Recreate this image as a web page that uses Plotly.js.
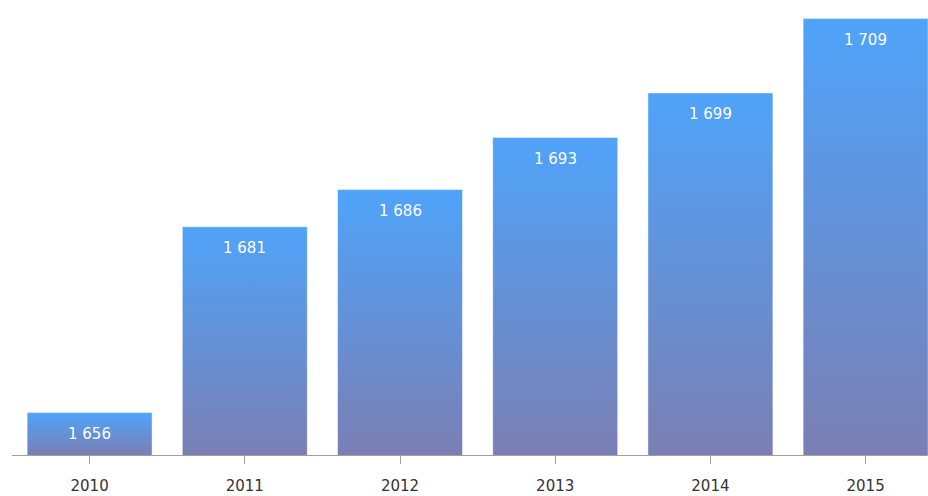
<!DOCTYPE html>
<html>
<head>
<meta charset="utf-8">
<script src="https://cdn.plot.ly/plotly-3.0.1.min.js"></script>
<style>
html,body{margin:0;padding:0;background:#fff;overflow:hidden;}
#chart{width:928px;height:496px;}
</style>
</head>
<body>
<div id="chart"></div>
<script>
const years = ['2010','2011','2012','2013','2014','2015'];
const values = [1656, 1681, 1686, 1693, 1699, 1709];

function fmt(v){ return String(v).replace(/\B(?=(\d{3})+(?!\d))/g, ' '); }

const trace = {
  type: 'bar',
  x: years,
  y: values,
  marker: {color: '#648fd8', line: {color: 'rgba(255,255,255,0.45)', width: 1}},
  hoverinfo: 'none'
};

const annotations = years.map((yr, i) => ({
  x: i, y: values[i], xref: 'x', yref: 'y',
  text: fmt(values[i]), showarrow: false,
  xanchor: 'center', yanchor: 'middle', yshift: -21,
  font: {family: 'DejaVu Sans, Verdana, sans-serif', size: 15, color: '#ffffff'}
}));

const layout = {
  width: 928, height: 496,
  margin: {l: 12, r: 0, t: 0, b: 41},
  paper_bgcolor: '#fff', plot_bgcolor: '#fff',
  bargap: 0.195,
  showlegend: false,
  xaxis: {
    type: 'category', range: [-0.5, 5.402],
    showline: true, linecolor: '#a0a0a0', linewidth: 1,
    ticks: 'outside', ticklen: 8, tickcolor: '#a0a0a0',
    ticklabelstandoff: 9,
    showgrid: false, zeroline: false,
    tickfont: {family: 'DejaVu Sans, Verdana, sans-serif', size: 15, color: '#333'}
  },
  yaxis: {
    range: [1650.3, 1711.5], showgrid: false, zeroline: false,
    showticklabels: false, showline: false, ticks: ''
  },
  annotations: annotations
};

Plotly.newPlot('chart', [trace], layout, {staticPlot: true, displayModeBar: false}).then(gd => {
  const svg = gd.querySelector('svg.main-svg');
  const NS = 'http://www.w3.org/2000/svg';
  let defs = svg.querySelector('defs');
  if (!defs) { defs = document.createElementNS(NS, 'defs'); svg.insertBefore(defs, svg.firstChild); }
  const ya = gd._fullLayout.yaxis;
  const paths = gd.querySelectorAll('.barlayer .point path');
  paths.forEach((p, i) => {
    const bb = p.getBBox();
    const top = Math.max(bb.y, 0);
    const bot = Math.min(bb.y + bb.height, ya._length);
    const g = document.createElementNS(NS, 'linearGradient');
    g.setAttribute('id', 'barGrad' + i);
    g.setAttribute('gradientUnits', 'userSpaceOnUse');
    g.setAttribute('x1', 0); g.setAttribute('x2', 0);
    g.setAttribute('y1', top); g.setAttribute('y2', bot);
    const s1 = document.createElementNS(NS, 'stop');
    s1.setAttribute('offset', '0'); s1.setAttribute('stop-color', '#4fa3fa');
    const s2 = document.createElementNS(NS, 'stop');
    s2.setAttribute('offset', '1'); s2.setAttribute('stop-color', '#7a7fb3');
    g.appendChild(s1); g.appendChild(s2);
    defs.appendChild(g);
    p.style.fill = 'url(#barGrad' + i + ')';
    p.style.fillOpacity = 1;
  });
});
</script>
</body>
</html>
